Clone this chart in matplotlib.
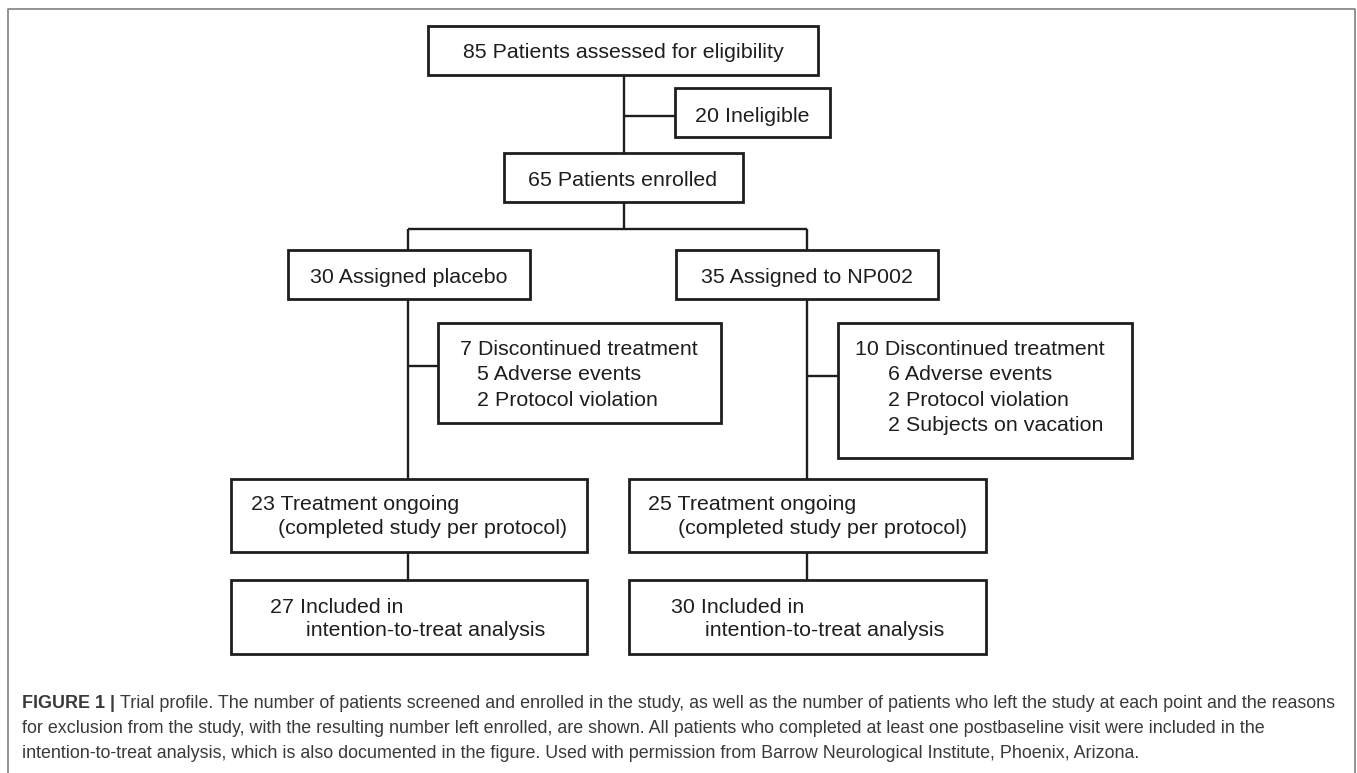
import matplotlib
matplotlib.use("Agg")
import matplotlib.pyplot as plt
from matplotlib.patches import Rectangle

# ---- content of the trial profile ----
n_assessed = 85
n_ineligible = 20
n_enrolled = 65
arms = ["placebo", "NP002"]
n_assigned = [30, 35]
n_discontinued = [7, 10]
reasons = [
    [(5, "Adverse events"), (2, "Protocol violation")],
    [(6, "Adverse events"), (2, "Protocol violation"), (2, "Subjects on vacation")],
]
n_ongoing = [23, 25]
n_itt = [27, 30]

caption_lines = [
    "Trial profile. The number of patients screened and enrolled in the study, as well as the number of patients who left the study at each point and the reasons",
    "for exclusion from the study, with the resulting number left enrolled, are shown. All patients who completed at least one postbaseline visit were included in the",
    "intention-to-treat analysis, which is also documented in the figure. Used with permission from Barrow Neurological Institute, Phoenix, Arizona.",
]

plt.rcParams["font.family"] = ["Liberation Sans", "DejaVu Sans"]

fig = plt.figure(figsize=(13.57, 7.73), dpi=100)
ax = fig.add_axes([0, 0, 1, 1])
ax.set_xlim(0, 1357)
ax.set_ylim(773, 0)
ax.axis("off")

INK = "#1e1e1e"
BOX_LW = 2.0
LINE_LW = 1.7
FS = 15.4


def box(x0, y0, x1, y1):
    ax.add_patch(Rectangle((x0, y0), x1 - x0, y1 - y0, fill=False,
                           edgecolor=INK, lw=BOX_LW, joinstyle="miter"))


def line(xs, ys):
    ax.plot(xs, ys, color=INK, lw=LINE_LW, solid_capstyle="butt")


def label(x, y, s, ha="left"):
    # y is the text baseline
    ax.text(x, y, s, ha=ha, va="baseline", fontsize=FS, color=INK)


# outer frame
ax.plot([7.5, 7.5, 1355, 1355], [775, 9, 9, 775], color="#808080", lw=1.2)

# top part
box(428, 26, 818, 75)
label(623, 57.8, f"{n_assessed} Patients assessed for eligibility", ha="center")
line([624, 624], [75, 153])
line([624, 675], [116, 116])
box(675, 88, 830, 137)
label(752, 121.5, f"{n_ineligible} Ineligible", ha="center")
box(504, 153, 743, 202)
label(623, 185.5, f"{n_enrolled} Patients enrolled", ha="center")
line([624, 624], [202, 229])
line([408, 807], [229, 229])

# arms
cx = [408, 807]
assign_box = [(288, 530), (676, 938)]
disc_box = [(438, 323, 721, 423), (838, 323, 1132, 458)]
branch_y = [366, 376]
disc_text_x = [(460, 477), (855, 888)]
lower_box = [(231, 587), (629, 986)]
ongoing_x = [(251, 278), (648, 678)]
itt_x = [(270, 306), (671, 705)]

for i in range(2):
    line([cx[i], cx[i]], [229, 250])
    ax0, ax1 = assign_box[i]
    box(ax0, 250, ax1, 299)
    txt = f"{n_assigned[i]} Assigned placebo" if i == 0 else f"{n_assigned[i]} Assigned to {arms[i]}"
    label((ax0 + ax1) / 2, 283, txt, ha="center")

    line([cx[i], cx[i]], [299, 479])
    d = disc_box[i]
    line([cx[i], d[0]], [branch_y[i], branch_y[i]])
    box(*d)
    label(disc_text_x[i][0], 355, f"{n_discontinued[i]} Discontinued treatment")
    for k, (n, why) in enumerate(reasons[i]):
        label(disc_text_x[i][1], 380.5 + 25.3 * k, f"{n} {why}")

    l0, l1 = lower_box[i]
    box(l0, 479, l1, 552)
    label(ongoing_x[i][0], 510, f"{n_ongoing[i]} Treatment ongoing")
    label(ongoing_x[i][1], 533.5, "(completed study per protocol)")
    line([cx[i], cx[i]], [552, 580])
    box(l0, 580, l1, 654)
    label(itt_x[i][0], 613.3, f"{n_itt[i]} Included in")
    label(itt_x[i][1], 635.5, "intention-to-treat analysis")

# caption
CAP = "#3a3a3a"
CFS = 12.9
bold = ax.text(22.5, 708, "FIGURE 1 | ", fontsize=CFS, fontweight="bold",
               color=CAP, va="baseline", ha="left")
fig.canvas.draw()
bb = bold.get_window_extent()
x_after = ax.transData.inverted().transform((bb.x1, bb.y0))[0]
ax.text(x_after, 708, caption_lines[0], fontsize=CFS, color=CAP, va="baseline", ha="left")
ax.text(22.5, 733, caption_lines[1], fontsize=CFS, color=CAP, va="baseline", ha="left")
ax.text(22.5, 758, caption_lines[2], fontsize=CFS, color=CAP, va="baseline", ha="left")

fig.savefig("out.png", dpi=100, facecolor="white")
